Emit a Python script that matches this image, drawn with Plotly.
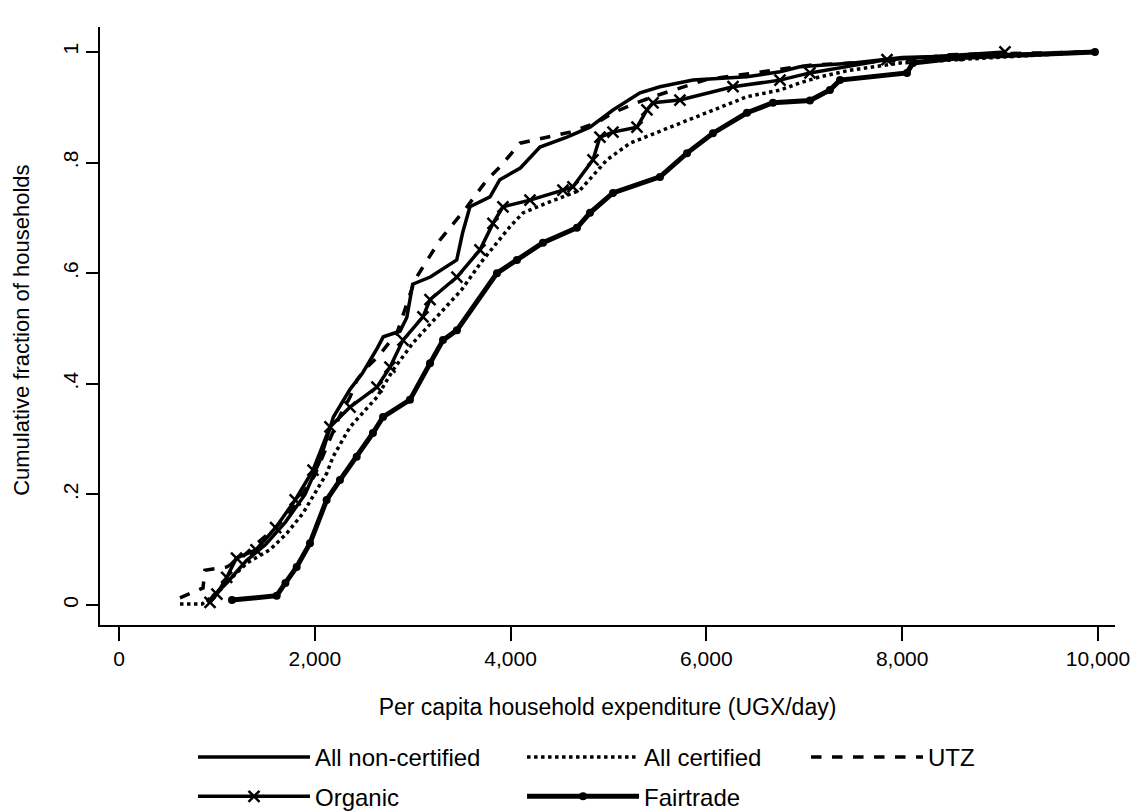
import plotly.graph_objects as go

# ---- data ----
noncert_x = [900, 1100, 1300, 1500, 1700, 1900, 2050, 2100, 2190, 2360, 2490, 2640, 2700, 2870, 2940, 3000,
             3180, 3450, 3510, 3585, 3790, 3890, 4100, 4300, 4576, 4811, 5046, 5322, 5526, 5863, 6415, 6752,
             6956, 7500, 8000, 9000, 9950]
noncert_y = [0.005, 0.04, 0.08, 0.11, 0.15, 0.2, 0.26, 0.29, 0.34, 0.39, 0.42, 0.465, 0.485, 0.495, 0.52, 0.58,
             0.593, 0.624, 0.673, 0.72, 0.738, 0.769, 0.79, 0.828, 0.846, 0.864, 0.895, 0.926, 0.937, 0.949, 0.955, 0.964,
             0.973, 0.98, 0.99, 0.995, 1.0]

cert_x = [623, 850, 950, 1100, 1307, 1542, 1716, 1879, 2022, 2124, 2186, 2360, 2635, 2799, 3003, 3248, 3500, 3700,
          3994, 4127, 4372, 4709, 4985, 5220, 5557, 6067, 6415, 6752, 6956, 7160, 7467, 7978, 9000, 9950]
cert_y = [0.002, 0.002, 0.015, 0.04, 0.076, 0.1, 0.13, 0.166, 0.208, 0.239, 0.268, 0.322, 0.376, 0.425, 0.474, 0.521, 0.57, 0.62,
          0.684, 0.709, 0.727, 0.75, 0.805, 0.835, 0.859, 0.895, 0.919, 0.931, 0.944, 0.955, 0.967, 0.98, 0.99, 1.0]

utz_x = [623, 858, 878, 1103, 1250, 1400, 1600, 1800, 2000, 2150, 2250, 2360, 2431, 2533, 2650, 2840, 2950, 3023,
         3279, 3555, 3759, 3892, 4096, 4372, 4607, 4882, 5046, 5291, 5455, 6000, 6721, 7058, 8000, 8500, 9950]
utz_y = [0.013, 0.031, 0.063, 0.069, 0.085, 0.11, 0.14, 0.18, 0.235, 0.3, 0.34, 0.376, 0.407, 0.43, 0.45, 0.492, 0.55, 0.588,
         0.66, 0.72, 0.769, 0.792, 0.835, 0.846, 0.855, 0.872, 0.89, 0.908, 0.919, 0.95, 0.967, 0.976, 0.985, 0.995, 1.0]

organic_x = [930, 1000, 1100, 1200, 1400, 1600, 1800, 1982, 2155, 2360, 2635, 2768, 2901, 3105, 3177, 3452, 3687, 3820,
             3922, 4198, 4535, 4637, 4842, 4913, 5046, 5291, 5393, 5455, 5730, 6272, 6752, 7058, 7845, 9050]
organic_y = [0.005, 0.02, 0.05, 0.085, 0.1, 0.14, 0.19, 0.244, 0.322, 0.358, 0.394, 0.43, 0.479, 0.521, 0.552, 0.593, 0.642, 0.69,
             0.72, 0.732, 0.75, 0.756, 0.805, 0.846, 0.855, 0.864, 0.895, 0.908, 0.913, 0.937, 0.949, 0.962, 0.986, 1.0]

fair_x = [1154, 1611, 1700, 1815, 1951, 2121, 2257, 2428, 2594, 2697, 2972, 3177, 3310, 3452, 3861, 4065, 4331, 4678,
          4811, 5046, 5526, 5802, 6067, 6415, 6680, 7058, 7262, 7365, 8049, 8110, 8600, 9969]
fair_y = [0.009, 0.017, 0.04, 0.069, 0.112, 0.19, 0.226, 0.268, 0.311, 0.34, 0.371, 0.437, 0.479, 0.497, 0.6, 0.624, 0.655, 0.682,
          0.709, 0.745, 0.774, 0.817, 0.853, 0.89, 0.908, 0.912, 0.931, 0.949, 0.962, 0.98, 0.99, 1.0]

x_ticks = [0, 2000, 4000, 6000, 8000, 10000]
x_ticktext = ["0", "2,000", "4,000", "6,000", "8,000", "10,000"]
y_ticks = [0, 0.2, 0.4, 0.6, 0.8, 1]
y_ticktext = ["0", ".2", ".4", ".6", ".8", "1"]
y_title = "Cumulative fraction of households"
x_title = "Per capita household expenditure (UGX/day)"

FONT = "Liberation Sans, Arial, sans-serif"
BLACK = "#000000"
LEG_FONT = dict(family=FONT, size=24, color=BLACK)

fig = go.Figure()
fig.add_trace(go.Scatter(x=noncert_x, y=noncert_y, mode="lines", name="All non-certified",
                         line=dict(color=BLACK, width=3.5), legend="legend", legendgroup="a"))
fig.add_trace(go.Scatter(x=cert_x, y=cert_y, mode="lines", name="All certified",
                         line=dict(color=BLACK, width=3.5, dash="dot"), legend="legend2", legendgroup="b"))
fig.add_trace(go.Scatter(x=utz_x, y=utz_y, mode="lines", name="UTZ",
                         line=dict(color=BLACK, width=3.5, dash="dash"), legend="legend3", legendgroup="c"))
fig.add_trace(go.Scatter(x=organic_x, y=organic_y, mode="lines+markers", name="Organic",
                         line=dict(color=BLACK, width=3.5),
                         marker=dict(symbol="x-thin", size=11, line=dict(color=BLACK, width=2.5), color=BLACK),
                         legend="legend", legendgroup="d"))
fig.add_trace(go.Scatter(x=fair_x, y=fair_y, mode="lines+markers", name="Fairtrade",
                         line=dict(color=BLACK, width=5),
                         marker=dict(symbol="circle", size=8, color=BLACK),
                         legend="legend2", legendgroup="e"))

leg_common = dict(orientation="v", xanchor="left", yanchor="top", xref="container", yref="container",
                  y=0.0958, itemwidth=112, font=LEG_FONT, bgcolor="rgba(0,0,0,0)",
                  traceorder="grouped", tracegroupgap=5)

fig.update_layout(
    width=1135, height=804,
    paper_bgcolor="white", plot_bgcolor="white",
    margin=dict(l=92, r=28, t=19, b=187, autoexpand=False),
    font=dict(family=FONT, size=21, color=BLACK),
    showlegend=True,
    legend=dict(x=0.163, **leg_common),
    legend2=dict(x=0.4529, **leg_common),
    legend3=dict(x=0.7031, **leg_common),
    xaxis=dict(range=[-194, 10174], tickvals=x_ticks, ticktext=x_ticktext,
               showline=True, linecolor=BLACK, linewidth=2, mirror=False,
               ticks="outside", ticklen=14, tickwidth=2, tickcolor=BLACK,
               showgrid=False, zeroline=False,
               tickfont=dict(family=FONT, size=21, color=BLACK),
               title=dict(text=x_title, standoff=30,
                          font=dict(family=FONT, size=23, color=BLACK))),
    yaxis=dict(range=[-0.036, 1.045], tickvals=y_ticks, ticktext=y_ticktext,
               showline=True, linecolor=BLACK, linewidth=2, mirror=False,
               ticks="outside", ticklen=12, tickwidth=2, tickcolor=BLACK,
               tickangle=-90, showgrid=False, zeroline=False,
               tickfont=dict(family=FONT, size=21, color=BLACK)),
    annotations=[dict(text=y_title, textangle=-90, xref="paper", yref="paper",
                      x=-0.0768, y=0.492, xanchor="center", yanchor="middle", showarrow=False,
                      font=dict(family=FONT, size=22, color=BLACK))],
)

fig.write_html("out.html")
